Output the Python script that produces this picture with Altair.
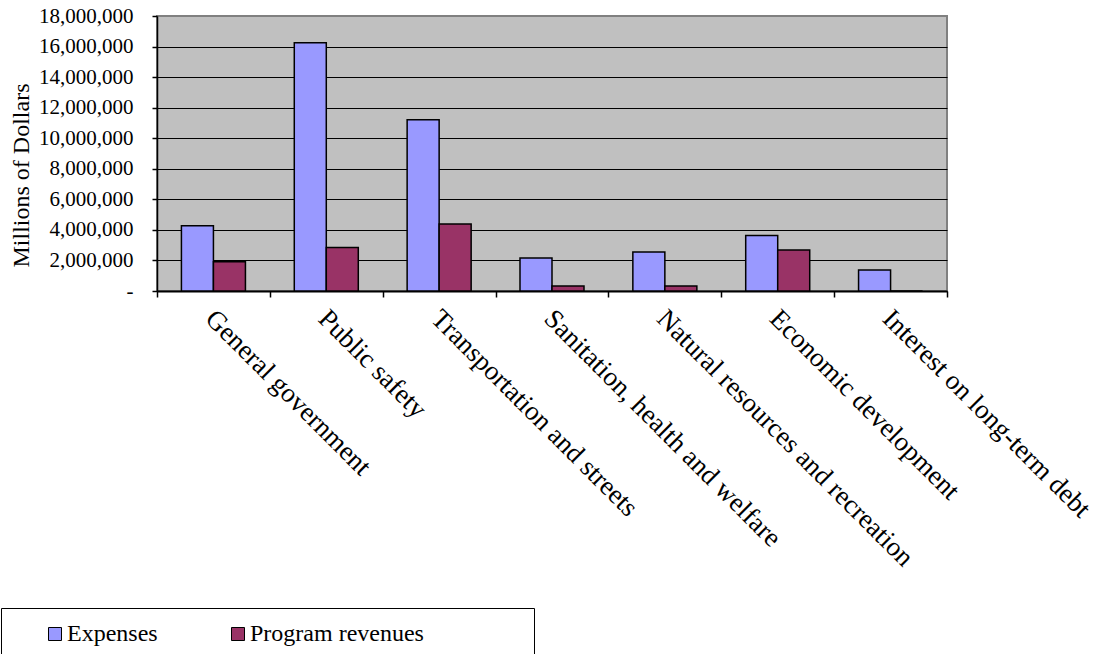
import altair as alt
import pandas as pd

categories = [
    "General government",
    "Public safety",
    "Transportation and streets",
    "Sanitation, health and welfare",
    "Natural resources and recreation",
    "Economic development",
    "Interest on long-term debt",
]
series = ["Expenses", "Program revenues"]
expenses = [4270000, 16250000, 11210000, 2160000, 2560000, 3630000, 1380000]
program_revenues = [1920000, 2850000, 4390000, 330000, 330000, 2690000, 0]
colors = ["#9999FF", "#993366"]
y_ticks = [0, 2000000, 4000000, 6000000, 8000000, 10000000, 12000000, 14000000, 16000000, 18000000]

rows = []
for c, e, r in zip(categories, expenses, program_revenues):
    rows.append({"category": c, "series": series[0], "value": e})
    rows.append({"category": c, "series": series[1], "value": r})
df = pd.DataFrame(rows)

font = "Liberation Serif"
# invisible trailing room so the legend frame reaches as far right as in the original
pad = "\u00a0" * 16 + "\u200b"

chart = (
    alt.Chart(df)
    .mark_bar(stroke="black", strokeWidth=1.5)
    .encode(
        x=alt.X(
            "category:N",
            sort=categories,
            title=None,
            scale=alt.Scale(paddingInner=0, paddingOuter=0),
            axis=alt.Axis(
                labelAngle=45,
                labelAlign="left",
                labelBaseline="top",
                labelFont=font,
                labelFontSize=27,
                labelColor="black",
                labelPadding=8,
                labelOffset=5,
                labelLimit=1000,
                tickBand="extent",
                tickSize=6,
                tickColor="black",
                tickWidth=1.5,
                domainColor="black",
                domainWidth=2,
                grid=False,
            ),
        ),
        xOffset=alt.XOffset(
            "series:N", sort=series, scale=alt.Scale(paddingInner=0, paddingOuter=0.763)
        ),
        y=alt.Y(
            "value:Q",
            scale=alt.Scale(domain=[0, 18000000], nice=False),
            axis=alt.Axis(
                values=y_ticks,
                labelExpr="datum.value == 0 ? '-' : format(datum.value, ',')",
                labelFont=font,
                labelFontSize=21,
                labelColor="black",
                labelPadding=19,
                tickSize=5,
                tickColor="black",
                tickWidth=1.5,
                domainColor="black",
                domainWidth=1.5,
                grid=True,
                gridColor=alt.condition(
                    "datum.value == 18000000", alt.value("#808080"), alt.value("black")
                ),
                gridWidth=1,
                title="Millions of Dollars",
                titleFont=font,
                titleFontSize=24,
                titleFontWeight="normal",
                titleColor="black",
                titleAngle=270,
                titleX=-136,
                titleY=159,
                titleAlign="center",
                titleBaseline="middle",
            ),
        ),
        color=alt.Color(
            "series:N",
            sort=series,
            scale=alt.Scale(domain=series, range=colors),
            legend=alt.Legend(
                title=None,
                orient="none",
                legendX=-156,
                legendY=592,
                direction="horizontal",
                labelFont=font,
                labelFontSize=24,
                labelColor="black",
                labelOffset=0,
                labelLimit=1000,
                labelExpr="datum.label == 'Program revenues' ? datum.label + '" + pad + "' : datum.label",
                symbolType="square",
                symbolSize=169,
                symbolStrokeColor="black",
                symbolStrokeWidth=1,
                symbolOffset=28,
                strokeColor="black",
                fillColor="white",
                padding=14,
                columnPadding=40,
            ),
        ),
    )
    .properties(
        width=790,
        height=275,
        autosize=alt.AutoSizeParams(type="none"),
        padding={"left": 157, "top": 16, "right": 151, "bottom": 363},
        background="white",
    )
    .configure(font=font)
    .configure_view(fill="#C0C0C0", stroke="#808080", strokeWidth=2)
)

chart.save("out.html", embed_options={"renderer": "svg", "actions": False})
